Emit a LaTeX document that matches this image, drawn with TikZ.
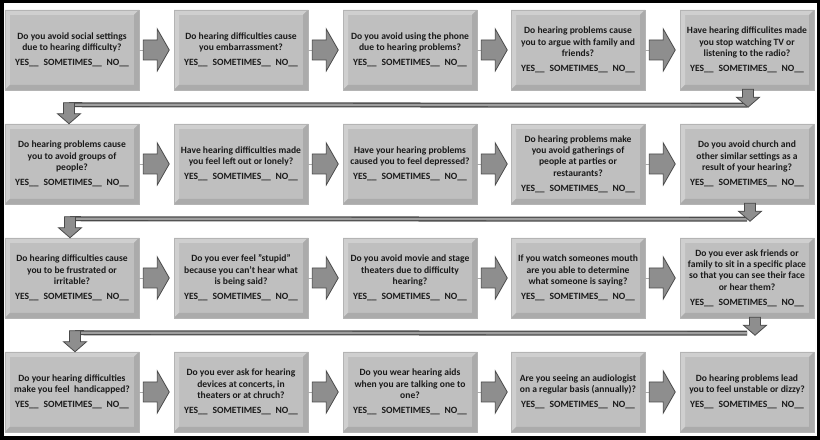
\documentclass[tikz,border=0pt]{standalone}
\usepackage{fontspec}
\setmainfont{Carlito}
\usetikzlibrary{calc}

\definecolor{boxgray}{HTML}{BFBFBF}
\definecolor{boxlight}{HTML}{CFCFCF}
\definecolor{boxdark}{HTML}{ABABAB}
\definecolor{boxedge}{HTML}{B4B4B4}
\definecolor{arrgray}{HTML}{8E8E8E}
\definecolor{arredge}{HTML}{4A4A4A}
\definecolor{txtgray}{HTML}{1A1A1A}

\newcommand{\bevelbox}{%
\path (path picture bounding box.south west) coordinate (sw)
      (path picture bounding box.north east) coordinate (ne);
\fill[boxlight] (sw) -- (sw|-ne) -- (ne) -- ($(ne)+(-5,-5)$) -- ($(sw|-ne)+(5,-5)$) -- ($(sw)+(5,5)$) -- cycle;
\fill[boxdark] (sw) -- (ne|-sw) -- (ne) -- ($(ne)+(-5,-5)$) -- ($(ne|-sw)+(-5,5)$) -- ($(sw)+(5,5)$) -- cycle;
}
\newcommand{\answers}{\\[3.5pt]YES\_\_\enspace SOMETIMES\_\_\enspace NO\_\_}

% right block arrow after a box
\newcommand{\rightblock}[1]{%
\draw[boxdark, line width=.6bp] (#1.east) -- ++(4,0);
\draw[blockarr] ($(#1.east)+(4,-10)$) -- ++(14,0) -- ++(0,-11) -- ++(12,21) -- ++(-12,21) -- ++(0,-11) -- ++(-14,0) -- cycle;
}
% down block arrow, tip given, shaft length
\newcommand{\downblock}[2]{%
\draw[blockarr] #1 -- ++(-11.5,10) -- ++(6,0) -- ++(0,#2) -- ++(11,0) -- ++(0,-#2) -- ++(6,0) -- cycle;
}

\tikzset{
  qbox/.style={rectangle, minimum width=134bp, minimum height=80bp, inner sep=0pt,
    fill=boxgray, draw=boxedge, line width=.5bp, align=center, text=txtgray,
    font=\bfseries\fontsize{9.6}{11.5}\selectfont, path picture={\bevelbox}},
  blockarr/.style={fill=arrgray, draw=arredge, line width=.8bp, line join=miter},
  retline/.style={draw=arredge, double=arrgray!85, line width=1.3bp, double distance=2.4bp}
}

\begin{document}
\begin{tikzpicture}[x=1bp, y=1bp]
\useasboundingbox (0,0) rectangle (820,440);
\fill[white] (0,0) rectangle (820,440);
\draw[line width=3.5bp] (1.75,1.75) rectangle (818.25,438.25);

% row 1
\node[qbox] (q1) at (72,390) {Do you avoid social settings\\due to hearing difficulty?\answers};
\node[qbox] (q2) at (241,390) {Do hearing difficulties cause\\you embarrassment?\answers};
\node[qbox] (q3) at (410,390) {Do you avoid using the phone\\due to hearing problems?\answers};
\node[qbox] (q4) at (578,390) {Do hearing problems cause\\you to argue with family and\\friends?\answers};
\node[qbox] (q5) at (747,390) {Have hearing difficulites made\\you stop watching TV or\\listening to the radio?\answers};

% row 2
\node[qbox] (q6) at (72,276) {Do hearing problems cause\\you to avoid groups of\\people?\answers};
\node[qbox] (q7) at (241,276) {Have hearing difficulties made\\you feel left out or lonely?\answers};
\node[qbox] (q8) at (410,276) {Have your hearing problems\\caused you to feel depressed?\answers};
\node[qbox] (q9) at (578,276) {Do hearing problems make\\you avoid gatherings of\\people at parties or\\restaurants?\answers};
\node[qbox] (q10) at (747,276) {Do you avoid church and\\other similar settings as a\\result of your hearing?\answers};

% row 3
\node[qbox] (q11) at (72,162) {Do hearing difficulties cause\\you to be frustrated or\\irritable?\answers};
\node[qbox] (q12) at (241,162) {Do you ever feel "stupid"\\because you can't hear what\\is being said?\answers};
\node[qbox] (q13) at (410,162) {Do you avoid movie and stage\\theaters due to difficulty\\hearing?\answers};
\node[qbox] (q14) at (578,162) {If you watch someones mouth\\are you able to determine\\what someone is saying?\answers};
\node[qbox] (q15) at (747,162) {Do you ever ask friends or\\family to sit in a specific place\\so that you can see their face\\or hear them?\answers};

% row 4
\node[qbox] (q16) at (72,48) {Do your hearing difficulties\\make you feel\ \ handicapped?\answers};
\node[qbox] (q17) at (241,48) {Do you ever ask for hearing\\devices at concerts, in\\theaters or at chruch?\answers};
\node[qbox] (q18) at (410,48) {Do you wear hearing aids\\when you are talking one to\\one?\answers};
\node[qbox] (q19) at (578,48) {Are you seeing an audiologist\\on a regular basis (annually)?\answers};
\node[qbox] (q20) at (747,48) {Do hearing problems lead\\you to feel unstable or dizzy?\answers};

\foreach \q in {q1,q2,q3,q4,q6,q7,q8,q9,q11,q12,q13,q14,q16,q17,q18,q19}
  {\rightblock{\q}}

% back to the next row
\draw[retline] ($(q5.south)+(0,-15)$) -- ($(q6.north)+(-3,19)$);
\downblock{($(q5.south)+(1,-17)$)}{8}
\downblock{($(q6.north)+(-3,0)$)}{11}

\draw[retline] ($(q10.south)+(0,-15)$) -- ($(q11.north)+(-2,19)$);
\downblock{($(q10.south)+(3,-17)$)}{8}
\downblock{($(q11.north)+(-2,0)$)}{11}

\draw[retline] ($(q15.south)+(0,-15)$) -- ($(q16.north)+(3,19)$);
\downblock{($(q15.south)+(8,-17)$)}{8}
\downblock{($(q16.north)+(3,0)$)}{11}
\end{tikzpicture}
\end{document}
